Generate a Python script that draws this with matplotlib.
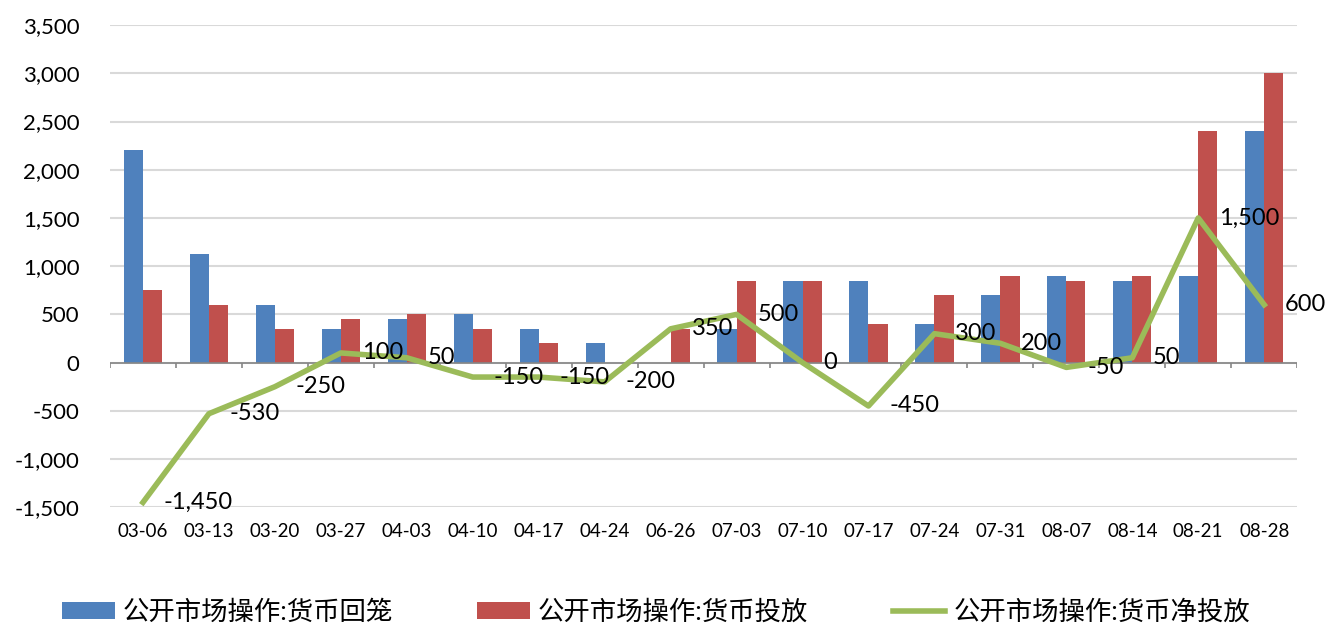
import numpy as np
import matplotlib.pyplot as plt
from matplotlib.ticker import FuncFormatter

plt.rcParams['font.family'] = ['Lato', 'Noto Sans CJK SC', 'DejaVu Sans']

dates = ['03-06', '03-13', '03-20', '03-27', '04-03', '04-10', '04-17', '04-24', '06-26',
         '07-03', '07-10', '07-17', '07-24', '07-31', '08-07', '08-14', '08-21', '08-28']
huilong = [2200, 1130, 600, 350, 450, 500, 350, 200, 0,
           350, 850, 850, 400, 700, 900, 850, 900, 2400]      # 货币回笼
toufang = [750, 600, 350, 450, 500, 350, 200, 0, 350,
           850, 850, 400, 700, 900, 850, 900, 2400, 3000]     # 货币投放
jingtou = [-1450, -530, -250, 100, 50, -150, -150, -200, 350,
           500, 0, -450, 300, 200, -50, 50, 1500, 600]        # 货币净投放

blue = '#4F81BD'
red = '#C0504D'
green = '#9BBB59'

fig = plt.figure(figsize=(13.25, 6.27), dpi=100)
ax = fig.add_axes([0.083, 0.191, 0.896, 0.769])

x = np.arange(len(dates))
w = 0.29
b1 = ax.bar(x - w/2, huilong, w, color=blue, label='公开市场操作:货币回笼', zorder=2)
b2 = ax.bar(x + w/2, toufang, w, color=red, label='公开市场操作:货币投放', zorder=2)
l1, = ax.plot(x, jingtou, color=green, lw=4, label='公开市场操作:货币净投放', zorder=3)

for xi, v in zip(x, jingtou):
    ax.annotate(f'{v:,}', (xi, v), xytext=(15, 0), textcoords='offset points',
                ha='left', va='center', fontsize=17, zorder=4)

ax.set_xlim(-0.5, len(dates) - 0.5)
ax.set_ylim(-1500, 3500)
ax.set_yticks(np.arange(-1500, 3501, 500))
ax.yaxis.set_major_formatter(FuncFormatter(lambda v, p: f'{int(v):,}'))
ax.grid(axis='y', color='#D9D9D9', lw=1.5, zorder=0)
ax.set_axisbelow(True)
for s in ax.spines.values():
    s.set_visible(False)

ax.axhline(0, color='#868686', lw=1.2, zorder=2.5)
ax.vlines(np.arange(len(dates) + 1) - 0.5, -55, 0, color='#868686', lw=1.2, zorder=2.5)

ax.set_xticks(x)
ax.set_xticklabels(dates, fontsize=13.5)
ax.tick_params(axis='x', length=0, pad=11)
ax.tick_params(axis='y', length=0, pad=22, labelsize=16)

fig.legend([b1, b2, l1], [b1.get_label(), b2.get_label(), l1.get_label()],
           loc='lower center', bbox_to_anchor=(0.495, -0.034), ncol=3, frameon=False,
           fontsize=19, handlelength=2.0, handleheight=0.6, columnspacing=3.2,
           handletextpad=0.3)

fig.savefig('out.png', dpi=100)
